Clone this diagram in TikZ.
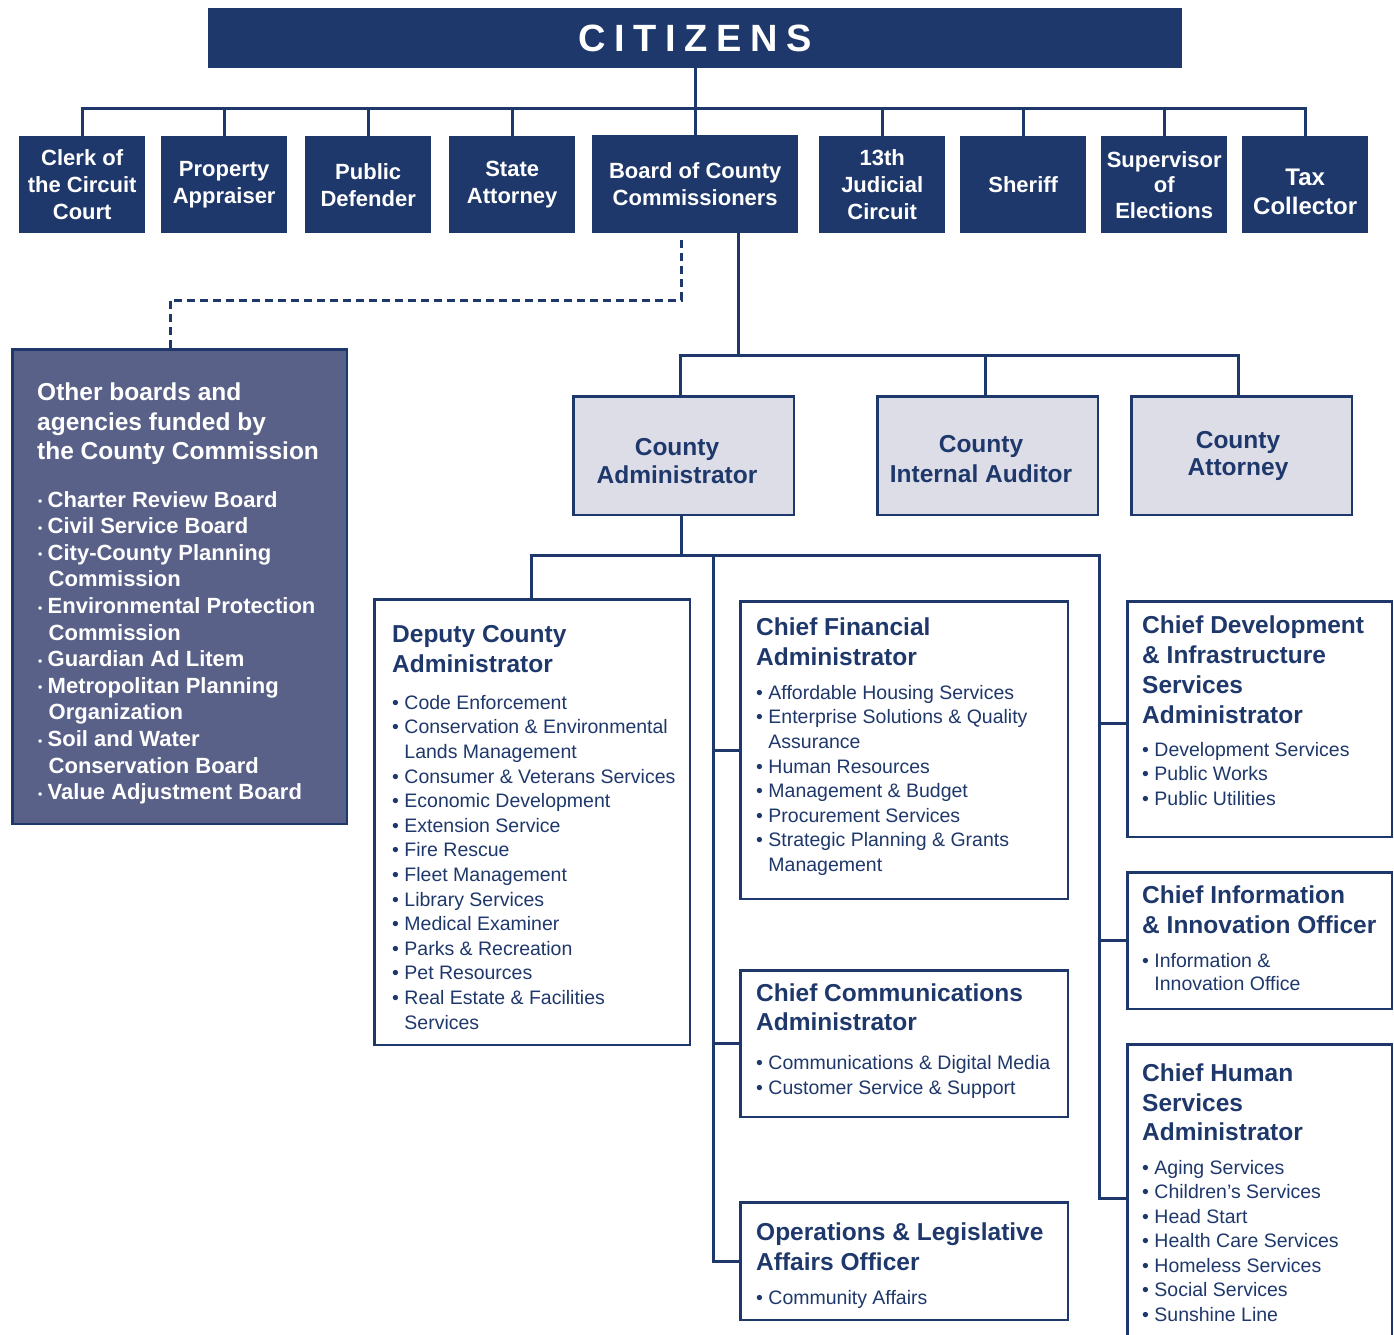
\documentclass[tikz,border=0pt]{standalone}
\usepackage{fontspec}
\setmainfont{Liberation Sans}
\usetikzlibrary{calc}
\definecolor{navy}{HTML}{1F386B}
\definecolor{slate}{HTML}{5A6189}
\definecolor{lightbox}{HTML}{DCDDE7}
\newcommand{\bul}{\textbullet\ }
\newcommand{\ind}{\hphantom{\textbullet\ }}
\newcommand{\obul}{\makebox[10.5pt][l]{\hspace*{1pt}\raisebox{1.5pt}{\fontsize{12}{12}\selectfont\textbullet}}}
\newcommand{\oind}{\hspace*{11.5pt}}
\begin{document}
\begin{tikzpicture}[x=1pt,y=-1pt,
  conn/.style={draw=navy, line width=3pt, line cap=rect},
  dashline/.style={draw=navy, line width=3pt, dash pattern=on 8pt off 5pt},
  topbox/.style={fill=navy, text=white, font=\bfseries\fontsize{22}{27}\selectfont, align=center, inner sep=0pt, minimum width=126pt, minimum height=97pt, anchor=north west},
  midbox/.style={fill=lightbox, draw=navy, line width=2.5pt, inner sep=0pt, minimum width=220.5pt, minimum height=118.5pt, anchor=north west},
  midtxt/.style={text=navy, font=\bfseries\fontsize{24.5}{27.5}\selectfont, align=center, inner sep=0pt},
  wbox/.style={fill=white, draw=navy, line width=2.5pt, inner sep=0pt, anchor=north west},
  ttl/.style={text=navy, font=\bfseries\fontsize{24.5}{30}\selectfont, align=left, inner sep=0pt, anchor=north west},
  lst/.style={text=navy, font=\fontsize{19.5}{24.6}\selectfont, align=left, inner sep=0pt, anchor=north west},
]
\useasboundingbox (0,0) rectangle (1394,1334);

% CITIZENS
\node[fill=navy, minimum width=974pt, minimum height=60pt, inner sep=0pt, anchor=north west, text=white, font=\bfseries\fontsize{38}{38}\selectfont] (cit) at (208,8) {C\kern8.5pt I\kern8.5pt T\kern8.5pt I\kern8.5pt Z\kern8.5pt E\kern8.5pt N\kern8.5pt S};

% top row
\node[topbox] (clerk) at (19,136) {Clerk of\\the Circuit\\Court};
\node[topbox] (prop) at (161,136) {Property\\Appraiser};
\node[topbox] (pd) at (305,136) {Public\\Defender};
\node[topbox] (sa) at (449,136) {State\\Attorney};
\node[topbox, minimum width=206pt, minimum height=98pt] (bocc) at (592,135) {Board of County\\Commissioners};
\node[topbox] (jud) at (819,136) {13th\\Judicial\\Circuit};
\node[topbox] (sher) at (960,136) {Sheriff};
\node[topbox, font=\bfseries\fontsize{22}{25.5}\selectfont] (soe) at (1101,136) {Supervisor\\of\\Elections};
\node[topbox] (tax) at (1242,136) {};
\node[text=white, font=\bfseries\fontsize{24}{28.5}\selectfont, align=center, inner sep=0pt] (taxT) at ([yshift=-7pt]tax.center) {Tax\\Collector};

\coordinate (busL) at (83,108);
\draw[conn] (clerk.north |- busL) -- (tax.north |- busL);
\draw[conn] (cit.south) -- (cit.south |- busL);
\foreach \n in {clerk,prop,pd,sa,bocc,jud,sher,soe,tax}
  \draw[conn] (\n.north) -- (\n.north |- busL);

% other boards
\node[fill=slate, draw=navy, line width=2.5pt, inner sep=0pt, minimum width=334.5pt, minimum height=474.5pt, anchor=north west] (other) at (11.25,348.25) {};
\node[text=white, font=\bfseries\fontsize{24.5}{29.5}\selectfont, align=left, inner sep=0pt, anchor=north west] (otherT) at (37,383) {Other boards and\\agencies funded by\\the County Commission};
\node[text=white, font=\bfseries\fontsize{22}{26.6}\selectfont, align=left, inner sep=0pt, anchor=north west] (otherL) at (37,491) {\obul Charter Review Board\\
\obul Civil Service Board\\
\obul City-County Planning\\
\oind Commission\\
\obul Environmental Protection\\
\oind Commission\\
\obul Guardian Ad Litem\\
\obul Metropolitan Planning\\
\oind Organization\\
\obul Soil and Water\\
\oind Conservation Board\\
\obul Value Adjustment Board};

% dashed link
\coordinate (d2) at (681,300);
\coordinate (d3) at (170,300);
\draw[dashline, shorten <=7pt] (bocc.south -| d2) -- (d2) -- (d3) -- (other.north -| d3);

% middle row
\node[midbox] (admin) at (572.25,395.25) {};
\node[midbox] (aud) at (876.25,395.25) {};
\node[midbox] (att) at (1130.25,395.25) {};
\node[midtxt] (adminT) at (677,461) {County\\Administrator};
\node[midtxt, font=\bfseries\fontsize{24.5}{30}\selectfont] (audT) at (981,459) {County\\Internal Auditor};
\node[midtxt] (attT) at (1238,456) {County\\Attorney};

\coordinate (b2) at (738,355);
\coordinate (bus2L) at (680,355);
\coordinate (bus2R) at (1238,355);
\draw[conn] (bocc.south -| b2) -- (b2);
\draw[conn] (bus2L) -- (bus2R);
\draw[conn] (bus2L) -- (bus2L |- admin.north);
\draw[conn] ([xshift=-2.5pt]aud.north) -- ([xshift=-2.5pt]aud.north |- bus2L);
\draw[conn] (bus2R) -- (bus2R |- att.north);

% lower boxes
\node[wbox, minimum width=315.5pt, minimum height=445.5pt] (dep) at (373.25,598.25) {};
\node[wbox, minimum width=327.5pt, minimum height=297.5pt] (cfa) at (739.25,600.25) {};
\node[wbox, minimum width=327.5pt, minimum height=146.5pt] (comm) at (739.25,969.25) {};
\node[wbox, minimum width=327.5pt, minimum height=117.5pt] (ops) at (739.25,1201.25) {};
\node[wbox, minimum width=264.5pt, minimum height=235.5pt] (dev) at (1126.25,600.25) {};
\node[wbox, minimum width=264.5pt, minimum height=136.5pt] (info) at (1126.25,871.25) {};
\node[wbox, minimum width=264.5pt, minimum height=296pt] (hum) at (1126.25,1043.25) {};

\coordinate (bus3L) at (531,555);
\coordinate (bus3R) at (1099,555);
\coordinate (sp1) at (713,555);
\coordinate (hb) at (1099,1198);
\draw[conn] ([xshift=-2pt]admin.south) -- ([xshift=-2pt]admin.south |- bus3L);
\draw[conn] (bus3L) -- (bus3R);
\draw[conn] (bus3L) -- (bus3L |- dep.north);
\draw[conn] (sp1) |- (ops.west);
\draw[conn] (cfa.west) -- (cfa.west -| sp1);
\draw[conn] (comm.west) -- (comm.west -| sp1);
\draw[conn] (bus3R) -- (hb) -- (hb -| hum.west);
\draw[conn] ([yshift=-4pt]dev.west) -- ([yshift=-4pt]dev.west -| bus3R);
\draw[conn] (info.west) -- (info.west -| bus3R);

% texts
\node[ttl] (depT) at (392,625) {Deputy County\\Administrator};
\node[lst] (depL) at (392,695) {\bul Code Enforcement\\
\bul Conservation \& Environmental\\
\ind Lands Management\\
\bul Consumer \& Veterans Services\\
\bul Economic Development\\
\bul Extension Service\\
\bul Fire Rescue\\
\bul Fleet Management\\
\bul Library Services\\
\bul Medical Examiner\\
\bul Parks \& Recreation\\
\bul Pet Resources\\
\bul Real Estate \& Facilities\\
\ind Services};

\node[ttl] (cfaT) at (756,618) {Chief Financial\\Administrator};
\node[lst] (cfaL) at (756,685) {\bul Affordable Housing Services\\
\bul Enterprise Solutions \& Quality\\
\ind Assurance\\
\bul Human Resources\\
\bul Management \& Budget\\
\bul Procurement Services\\
\bul Strategic Planning \& Grants\\
\ind Management};

\node[ttl, font=\bfseries\fontsize{24.5}{29}\selectfont] (commT) at (756,984) {Chief Communications\\Administrator};
\node[lst, font=\fontsize{19.5}{25}\selectfont] (commL) at (756,1055) {\bul Communications \& Digital Media\\
\bul Customer Service \& Support};

\node[ttl] (opsT) at (756,1223) {Operations \& Legislative\\Affairs Officer};
\node[lst] (opsL) at (756,1290) {\bul Community Affairs};

\node[ttl, font=\bfseries\fontsize{24.5}{29.7}\selectfont] (devT) at (1142,616) {Chief Development\\\& Infrastructure\\Services\\Administrator};
\node[lst, font=\fontsize{19.5}{24.5}\selectfont] (devL) at (1142,742) {\bul Development Services\\
\bul Public Works\\
\bul Public Utilities};

\node[ttl] (infoT) at (1142,886) {Chief Information\\\& Innovation Officer};
\node[lst, font=\fontsize{19.5}{23}\selectfont] (infoL) at (1142,953) {\bul Information \&\\
\ind Innovation Office};

\node[ttl, font=\bfseries\fontsize{24.5}{29.5}\selectfont] (humT) at (1142,1064) {Chief Human\\Services\\Administrator};
\node[lst, font=\fontsize{19.5}{24.5}\selectfont] (humL) at (1142,1160) {\bul Aging Services\\
\bul Children’s Services\\
\bul Head Start\\
\bul Health Care Services\\
\bul Homeless Services\\
\bul Social Services\\
\bul Sunshine Line};
\end{tikzpicture}
\end{document}
